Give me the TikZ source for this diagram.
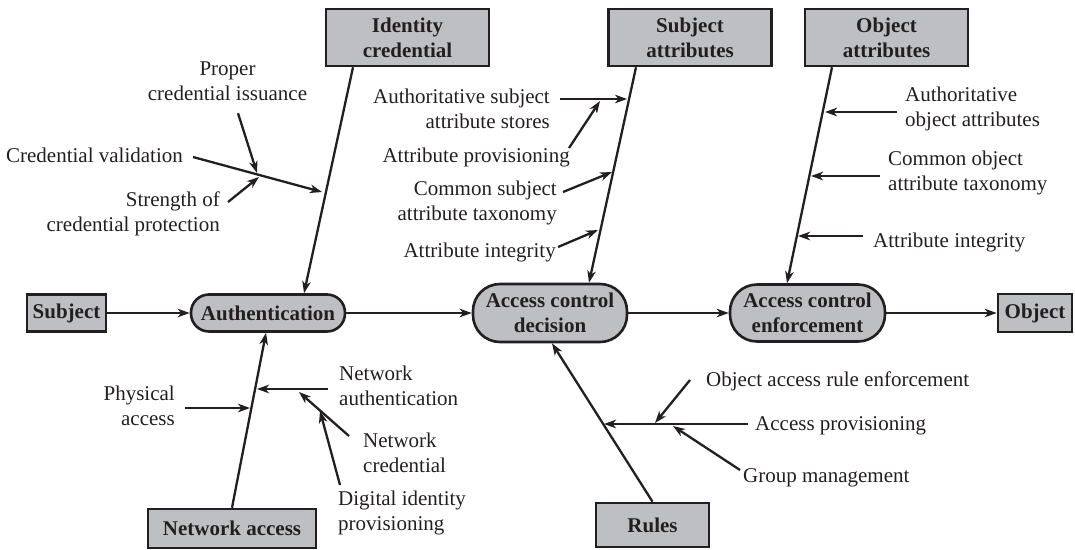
\documentclass[tikz,border=0pt]{standalone}
\usepackage{fontspec}
\setmainfont{Liberation Serif}
\usetikzlibrary{arrows.meta}
\definecolor{boxgray}{RGB}{190,191,194}
\definecolor{ink}{RGB}{35,31,32}
\newcommand\lfont{\fontsize{21}{25}\selectfont}
\begin{document}
\begin{tikzpicture}[x=1pt,y=-1pt,
  box/.style={draw=ink, line width=2.6pt, fill=boxgray, inner sep=0pt, font=\lfont\bfseries, align=center, text=ink},
  pill/.style={box, rounded corners=#1},
  lbl/.style={inner sep=0pt, font=\lfont, text=ink},
  arr/.style={draw=ink, line width=2.3pt, -{Stealth[length=12pt,width=8.5pt,inset=3.5pt]}},
]
\useasboundingbox (0,0) rectangle (1075,549);

% main nodes
\node[box, minimum width=79pt, minimum height=37pt] (subj) at (66.5,313) {Subject};
\node[pill=18pt, minimum width=154pt, minimum height=37pt] (auth) at (268,313) {Authentication};
\node[pill=27pt, minimum width=154pt, minimum height=58pt] (acd) at (550,313) {Access control\\decision};
\node[pill=27pt, minimum width=155pt, minimum height=57pt] (ace) at (807.5,313) {Access control\\enforcement};
\node[box, minimum width=74pt, minimum height=38pt] (obj) at (1035,313) {Object};

\node[box, minimum width=163pt, minimum height=57pt] (idc) at (407.5,37.5) {Identity\\credential};
\node[box, minimum width=163pt, minimum height=57pt] (sa) at (690,37.5) {Subject\\attributes};
\node[box, minimum width=163pt, minimum height=57pt] (oa) at (886.5,37.5) {Object\\attributes};
\node[box, minimum width=168pt, minimum height=39pt] (nac) at (232,528.5) {Network access};
\node[box, minimum width=113pt, minimum height=44pt] (rules) at (652.5,525) {Rules};

% labels
\node[lbl, anchor=east] (cv) at (183,157) {\strut Credential validation};
\node[lbl, align=center] (pci) at (227.5,82.5) {\strut Proper\\\strut credential issuance};
\node[lbl, align=right, anchor=east] (scp) at (220,214) {\strut Strength of\\\strut credential protection};
\node[lbl, align=right, anchor=east] (asas) at (550,110.5) {\strut Authoritative subject\\\strut attribute stores};
\node[lbl, anchor=east] (ap) at (570,157) {\strut Attribute provisioning};
\node[lbl, align=right, anchor=east] (csat) at (557,202.5) {\strut Common subject\\\strut attribute taxonomy};
\node[lbl, anchor=east] (ai1) at (556,252) {\strut Attribute integrity};
\node[lbl, align=left, anchor=west] (aoa) at (905,108.7) {\strut Authoritative\\\strut object attributes};
\node[lbl, align=left, anchor=west] (coat) at (888,172.5) {\strut Common object\\\strut attribute taxonomy};
\node[lbl, anchor=west] (ai2) at (873,242) {\strut Attribute integrity};
\node[lbl, align=right, anchor=east] (pa) at (175,408) {\strut Physical\\\strut access};
\node[lbl, align=left, anchor=west] (na) at (339,388) {\strut Network\\\strut authentication};
\node[lbl, align=left, anchor=west] (nc) at (363,455) {\strut Network\\\strut credential};
\node[lbl, align=left, anchor=west] (dip) at (338,512.5) {\strut Digital identity\\\strut provisioning};
\node[lbl, anchor=west] (oare) at (706,381) {\strut Object access rule enforcement};
\node[lbl, anchor=west] (apv) at (755,425) {\strut Access provisioning};
\node[lbl, anchor=west] (gm) at (743,477) {\strut Group management};

% points on the spines
\coordinate (pcv) at (322,192);
\coordinate (ppci) at (257,173);
\coordinate (pscp) at (259,177);
\coordinate (pasas) at (627,99);
\coordinate (pap) at (600,101);
\coordinate (pcsat) at (612,172);
\coordinate (pai1) at (598,230);
\coordinate (paoa) at (825,112);
\coordinate (pcoat) at (811,176);
\coordinate (pai2) at (798,236);
\coordinate (ppa) at (250,408);
\coordinate (pna) at (257,389);
\coordinate (pnc) at (299,392);
\coordinate (pdip) at (320,411);
\coordinate (papv) at (604,424);
\coordinate (poare) at (655,423);
\coordinate (pgm) at (673,426);

% main flow
\draw[arr] (subj) -- (auth);
\draw[arr] (auth) -- (acd);
\draw[arr] (acd) -- (ace);
\draw[arr] (ace) -- (obj);

% spines
\draw[arr] ([xshift=-54.5pt]idc.south) -- ([xshift=36pt]auth.north);
\draw[arr] ([xshift=-54pt]sa.south) -- ([xshift=39pt]acd.north);
\draw[arr] ([xshift=-54.5pt]oa.south) -- ([xshift=-20.5pt]ace.north);
\draw[arr] (nac.north) -- ([xshift=-2pt]auth.south);
\draw[arr] (rules.north) -- ([xshift=2pt]acd.south);

% branches
\draw[arr] ([shift={(10,0)}]cv.east) -- (pcv);
\draw[arr] ([shift={(10.5,5.5)}]pci.south) -- (ppci);
\draw[arr] ([shift={(8,-12)}]scp.east) -- (pscp);
\draw[arr] ([shift={(10,-11.5)}]asas.east) -- (pasas);
\draw[arr] ([shift={(-1,-9)}]ap.east) -- (pap);
\draw[arr] ([shift={(6,-10.5)}]csat.east) -- (pcsat);
\draw[arr] ([shift={(2,-5)}]ai1.east) -- (pai1);
\draw[arr] ([shift={(-8,3.3)}]aoa.west) -- (paoa);
\draw[arr] ([shift={(-8,3.5)}]coat.west) -- (pcoat);
\draw[arr] ([shift={(-10,-6)}]ai2.west) -- (pai2);
\draw[arr] ([shift={(10,0)}]pa.east) -- (ppa);
\draw[arr] ([shift={(-11,1)}]na.west) -- (pna);
\draw[arr] ([shift={(-14,-19)}]nc.west) -- (pnc);
\draw[arr] ([shift={(2,-27.5)}]dip.west) -- (pdip);
\draw[arr] ([shift={(-16,-1)}]oare.west) -- (poare);
\draw[arr] ([shift={(-7,-1)}]apv.west) -- (papv);
\draw[arr] ([shift={(-3,-7)}]gm.west) -- (pgm);
\end{tikzpicture}
\end{document}
